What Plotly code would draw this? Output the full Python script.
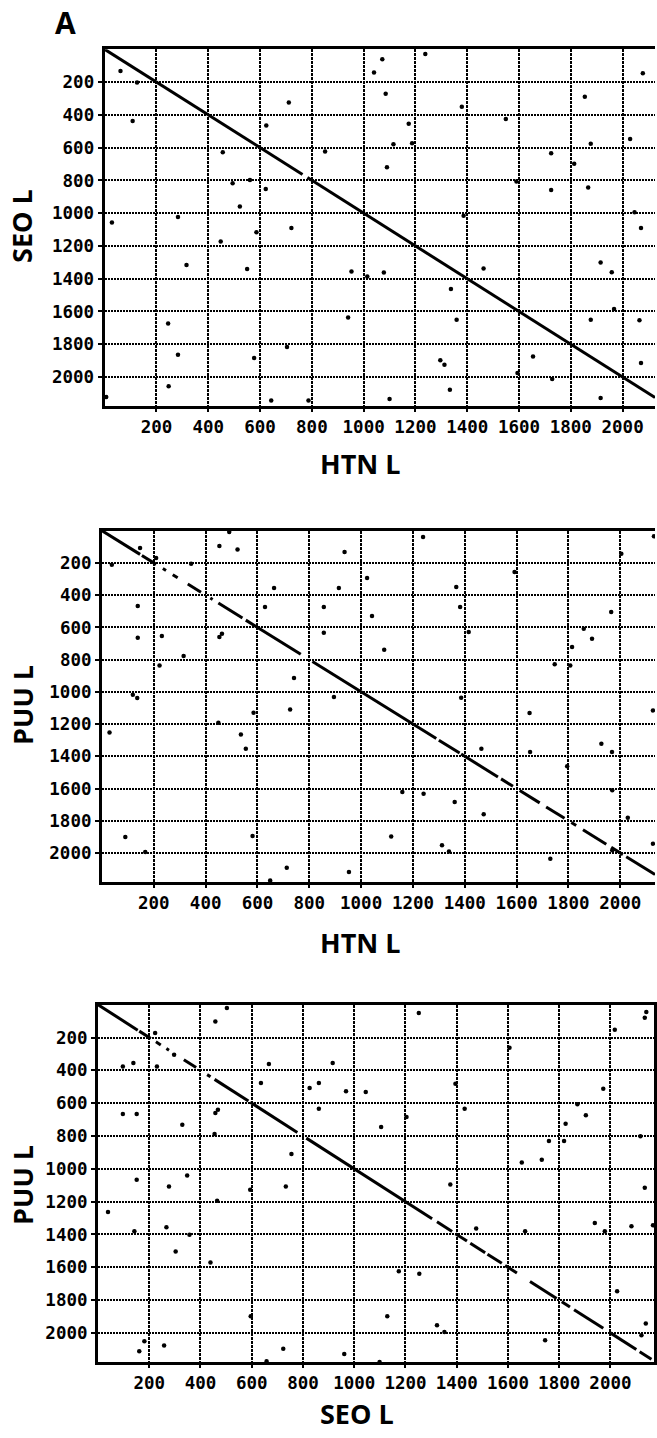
import plotly.graph_objects as go

W, H = 657, 1438

# ---- data: off-diagonal dots (x, y) and diagonal runs [start, end] ----
p1_x = [61, 125, 108, 711, 624, 456, 851, 494, 561, 622, 522, 28, 283, 586, 448, 721, 316, 550, 953, 1014,
        940, 245, 283, 577, 704, 247, 643, 787, 6,
        1072, 1040, 1238, 1085, 1379, 1174, 1115, 1187, 1549, 1854, 2078, 2029, 1877, 1724, 1813, 1090, 1590,
        1724, 1867, 1386, 2046, 2071, 1078, 1463, 1915, 1958, 1337, 1359, 1877, 2065, 1967, 1296, 1312, 1654,
        1594, 1728, 1333, 1100, 1915, 2071]
p1_y = [132, 203, 437, 325, 465, 628, 624, 817, 797, 852, 959, 1057, 1024, 1116, 1173, 1091, 1317, 1341, 1356, 1386,
        1636, 1673, 1864, 1884, 1817, 2057, 2144, 2144, 2122,
        61, 141, 28, 272, 350, 455, 579, 573, 425, 289, 146, 547, 577, 634, 699, 720, 807,
        858, 843, 1016, 994, 1091, 1362, 1337, 1301, 1360, 1463, 1650, 1650, 1654, 1585, 1898, 1925, 1874,
        1976, 2012, 2077, 2134, 2128, 1915]
p1_diag = [[0, 764], [783, 2125]]

p2_x = [147, 38, 209, 344, 453, 523, 491, 936, 664, 914, 1023, 138, 629, 856, 1042, 138, 231, 453, 463, 856,
        315, 222, 741, 119, 136, 895, 726, 585, 449, 29, 536, 555, 90, 167, 581, 713, 649, 953,
        1239, 2130, 2004, 1592, 1367, 1382, 1415, 1965, 1859, 1891, 1814, 1089, 1747, 1807, 1386, 1650, 2126,
        1464, 1652, 1927, 1968, 1795, 1159, 1241, 1361, 1473, 1969, 2029, 1116, 1312, 1339, 1730, 1969, 2126]
p2_y = [108, 211, 170, 205, 95, 116, 8, 132, 356, 356, 294, 467, 474, 474, 529, 664, 654, 660, 639, 633,
        778, 836, 914, 1018, 1038, 1032, 1109, 1129, 1191, 1253, 1264, 1353, 1901, 1994, 1895, 2091, 2170, 2118,
        39, 35, 143, 256, 350, 474, 629, 505, 608, 670, 722, 738, 829, 836, 1036, 1131, 1115,
        1353, 1373, 1322, 1373, 1462, 1622, 1632, 1684, 1760, 1611, 1781, 1897, 1952, 1990, 2035, 1983, 1942]
p2_diag = [[0, 147], [154, 209], [235, 247], [273, 292], [331, 382], [418, 427], [449, 542], [555, 767],
           [812, 1290], [1300, 1380], [1386, 1528], [1540, 1586], [1612, 1689], [1714, 1785], [1811, 1830],
           [1856, 1946], [1965, 2010], [2023, 2134]]

p3_x = [458, 503, 223, 97, 138, 230, 297, 667, 916, 636, 826, 862, 968, 1045, 97, 151, 458, 468, 862, 329,
        455, 755, 151, 277, 348, 733, 594, 465, 39, 142, 267, 357, 303, 439, 181, 161, 258, 723, 658, 961, 596,
        1252, 2017, 2134, 2140, 1606, 1395, 1972, 1431, 1204, 1871, 1904, 1105, 1825, 1760, 1819, 1654, 1732,
        2117, 1375, 2134, 1476, 1667, 1939, 1978, 2082, 2166, 1174, 1254, 2026, 1129, 1323, 1352, 1745, 2138,
        2121, 1099]
p3_y = [102, 20, 173, 376, 355, 376, 305, 361, 355, 477, 508, 477, 528, 532, 666, 666, 660, 640, 634, 731,
        788, 910, 1066, 1107, 1040, 1107, 1127, 1194, 1263, 1381, 1356, 1401, 1503, 1570, 2051, 2112, 2077, 2097,
        2173, 2128, 1898,
        51, 152, 79, 45, 262, 481, 512, 634, 684, 607, 674, 745, 725, 830, 830, 962, 944,
        802, 1096, 1115, 1364, 1381, 1330, 1381, 1350, 1344, 1624, 1639, 1746, 1898, 1953, 1994, 2045, 1943,
        2014, 2177]
p3_diag = [[0, 155], [161, 206], [226, 245], [267, 277], [335, 383], [426, 439], [455, 587], [594, 778],
           [813, 1304], [1323, 1382], [1395, 1440], [1453, 1511], [1520, 1576], [1589, 1635], [1686, 1790],
           [1810, 1842], [1858, 1972], [1998, 2101], [2114, 2160]]

tick_vals = [200, 400, 600, 800, 1000, 1200, 1400, 1600, 1800, 2000]

panels = [
    # dots, diagonal, pixel box (left, right, top, bottom), axis maxima, right border, titles
    dict(x=p1_x, y=p1_y, diag=p1_diag, box=(105, 657, 49.3, 405.7), xmax=2125, ymax=2175,
         right=False, xt="HTN L", yt="SEO L", xt_pos=(362, 464), yt_pos=(22, 226)),
    dict(x=p2_x, y=p2_y, diag=p2_diag, box=(102.3, 657, 530.7, 882), xmax=2134, ymax=2180,
         right=False, xt="HTN L", yt="PUU L", xt_pos=(362, 942), yt_pos=(22, 705)),
    dict(x=p3_x, y=p3_y, diag=p3_diag, box=(98.3, 656, 1004.7, 1362), xmax=2170, ymax=2177,
         right=True, xt="SEO L", yt="PUU L", xt_pos=(358, 1413), yt_pos=(22, 1185)),
]

tick_font = dict(family="DejaVu Sans Mono", size=17.5, color="black", weight="bold")
title_font = dict(family="Open Sans", size=27, color="black")

fig = go.Figure()
layout = dict(width=W, height=H, margin=dict(l=0, r=0, t=0, b=0),
              paper_bgcolor="white", plot_bgcolor="white", showlegend=False)
annotations = []

for i, p in enumerate(panels, start=1):
    xa = "x" if i == 1 else f"x{i}"
    ya = "y" if i == 1 else f"y{i}"
    left, right, top, bottom = p["box"]

    # diagonal runs drawn as broken identity line
    dx, dy = [], []
    for a, b in p["diag"]:
        dx += [a, b, None]
        dy += [a, b, None]
    fig.add_trace(go.Scatter(x=dx, y=dy, mode="lines", xaxis=xa, yaxis=ya,
                             line=dict(color="black", width=3), hoverinfo="skip"))
    fig.add_trace(go.Scatter(x=p["x"], y=p["y"], mode="markers", xaxis=xa, yaxis=ya,
                             marker=dict(color="black", size=4.5), hoverinfo="skip"))

    layout[f"xaxis{'' if i == 1 else i}"] = dict(
        domain=[left / W, right / W], range=[0, p["xmax"]], anchor=ya,
        tickvals=tick_vals, ticktext=[str(v) for v in tick_vals], tickfont=tick_font,
        showgrid=True, gridcolor="black", gridwidth=2, griddash="3px,1px",
        zeroline=False, showline=True, linecolor="black", linewidth=3, mirror=True,
        ticks="outside", ticklen=3, tickwidth=2, tickcolor="black",
    )
    layout[f"yaxis{'' if i == 1 else i}"] = dict(
        domain=[1 - bottom / H, 1 - top / H], range=[p["ymax"], 0], anchor=xa,
        tickvals=tick_vals, ticktext=[str(v) for v in tick_vals], tickfont=tick_font,
        showgrid=True, gridcolor="black", gridwidth=1.7, griddash="2px,1px",
        zeroline=False, showline=True, linecolor="black", linewidth=3, mirror=p["right"],
        ticks="outside", ticklen=4, tickwidth=2, tickcolor="black",
    )

    annotations.append(dict(text=f"<b>{p['xt']}</b>", x=p["xt_pos"][0] / W, y=1 - p["xt_pos"][1] / H,
                            xref="paper", yref="paper", showarrow=False, font=title_font,
                            xanchor="center", yanchor="middle"))
    annotations.append(dict(text=f"<b>{p['yt']}</b>", x=p["yt_pos"][0] / W, y=1 - p["yt_pos"][1] / H,
                            xref="paper", yref="paper", showarrow=False, font=title_font,
                            textangle=-90, xanchor="center", yanchor="middle"))

annotations.append(dict(text="<b>A</b>", x=66 / W, y=1 - 22 / H, xref="paper", yref="paper",
                        showarrow=False, font=dict(family="Open Sans", size=30, color="black"),
                        xanchor="center", yanchor="middle"))
layout["annotations"] = annotations
fig.update_layout(**layout)

fig.write_html("out.html")
